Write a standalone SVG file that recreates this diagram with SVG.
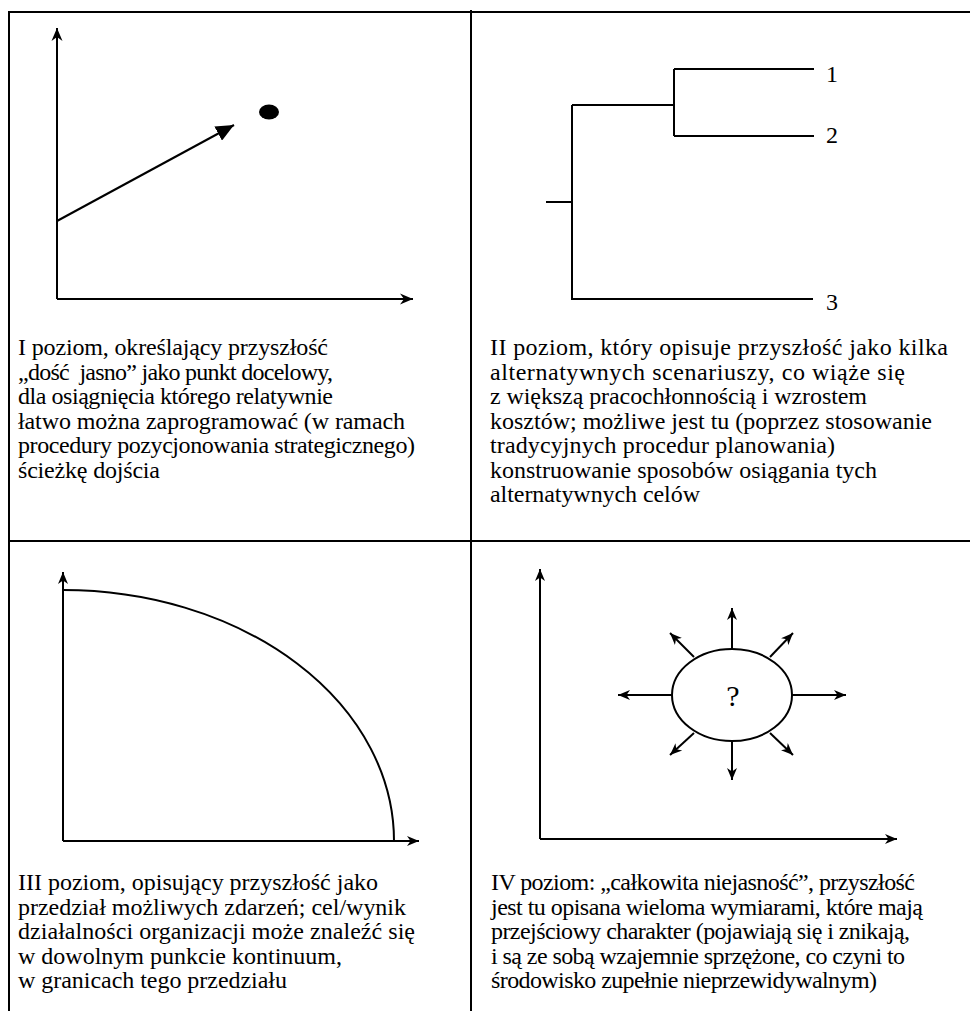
<svg xmlns="http://www.w3.org/2000/svg" width="970" height="1011" viewBox="0 0 970 1011">
<style>
.ln{stroke:#000;stroke-width:2;fill:none}
.fr{stroke:#000;stroke-width:2;fill:none}
text{font-family:'Liberation Serif','Times New Roman',serif;font-size:24px;fill:#000}
</style>
<defs>
<marker id="ah" markerUnits="userSpaceOnUse" markerWidth="16" markerHeight="12" refX="13" refY="6" orient="auto">
<path d="M0,0.5 L13,6 L0,11.5 L4,6 Z" fill="#000"/>
</marker>
<marker id="ahs" markerUnits="userSpaceOnUse" markerWidth="14" markerHeight="12" refX="12" refY="6" orient="auto">
<path d="M0,1 L12,6 L0,11 L3.5,6 Z" fill="#000"/>
</marker>
<marker id="tri" markerUnits="userSpaceOnUse" markerWidth="20" markerHeight="16" refX="18" refY="8" orient="auto">
<path d="M0,0 L18,8 L0,16 Z" fill="#000"/>
</marker>
</defs>
<g id="frame">
<line class="fr" x1="9" y1="12" x2="970" y2="12"/>
<line class="fr" x1="9" y1="11" x2="9" y2="1011"/>
<line class="fr" x1="471" y1="10" x2="471" y2="1011"/>
<line class="fr" x1="9" y1="541" x2="970" y2="541"/>
</g>
<g id="panel1">
<line class="ln" x1="57" y1="299" x2="57" y2="28" marker-end="url(#ah)"/>
<line class="ln" x1="57" y1="299" x2="413" y2="299" marker-end="url(#ah)"/>
<line class="ln" x1="57" y1="221" x2="234" y2="125" marker-end="url(#tri)"/>
<ellipse cx="269" cy="112" rx="10" ry="7.5" fill="#000"/>
<text x="18" y="355" textLength="310" lengthAdjust="spacing">I poziom, określający przyszłość</text>
<text x="18" y="379.5" textLength="315" lengthAdjust="spacing">„dość&#160; jasno” jako punkt docelowy,</text>
<text x="18" y="404" textLength="315" lengthAdjust="spacing">dla osiągnięcia którego relatywnie</text>
<text x="18" y="428.5" textLength="387" lengthAdjust="spacing">łatwo można zaprogramować (w ramach</text>
<text x="18" y="453" textLength="397" lengthAdjust="spacing">procedury pozycjonowania strategicznego)</text>
<text x="18" y="477.5" textLength="142" lengthAdjust="spacing">ścieżkę dojścia</text>
</g>
<g id="panel2">
<path class="ln" d="M546,202 H572 M572,105 V299 H813 M572,105 H674 M674,69 V136 M674,69 H814 M674,136 H814"/>
<text x="826" y="82">1</text>
<text x="826" y="143">2</text>
<text x="826" y="310">3</text>
<text x="490" y="355" textLength="458" lengthAdjust="spacing">II poziom, który opisuje przyszłość jako kilka</text>
<text x="490" y="379.5" textLength="415" lengthAdjust="spacing">alternatywnych scenariuszy, co wiąże się</text>
<text x="490" y="404" textLength="377" lengthAdjust="spacing">z większą pracochłonnością i wzrostem</text>
<text x="490" y="428.5" textLength="442" lengthAdjust="spacing">kosztów; możliwe jest tu (poprzez stosowanie</text>
<text x="490" y="453" textLength="345" lengthAdjust="spacing">tradycyjnych procedur planowania)</text>
<text x="490" y="477.5" textLength="387" lengthAdjust="spacing">konstruowanie sposobów osiągania tych</text>
<text x="490" y="502" textLength="210" lengthAdjust="spacing">alternatywnych celów</text>
</g>
<g id="panel3">
<line class="ln" x1="63" y1="841" x2="63" y2="572" marker-end="url(#ahs)"/>
<line class="ln" x1="63" y1="841" x2="419" y2="841" marker-end="url(#ahs)"/>
<path class="ln" d="M63,590 A331,251 0 0 1 394,841"/>
<text x="18" y="890" textLength="360" lengthAdjust="spacing">III poziom, opisujący przyszłość jako</text>
<text x="18" y="914.5" textLength="388" lengthAdjust="spacing">przedział możliwych zdarzeń; cel/wynik</text>
<text x="18" y="939" textLength="397" lengthAdjust="spacing">działalności organizacji może znaleźć się</text>
<text x="18" y="963.5" textLength="324" lengthAdjust="spacing">w dowolnym punkcie kontinuum,</text>
<text x="18" y="988" textLength="269" lengthAdjust="spacing">w granicach tego przedziału</text>
</g>
<g id="panel4">
<line class="ln" x1="540" y1="839" x2="540" y2="569" marker-end="url(#ahs)"/>
<line class="ln" x1="540" y1="839" x2="897" y2="839" marker-end="url(#ahs)"/>
<ellipse class="ln" cx="732" cy="695" rx="60" ry="46" fill="#fff"/>
<text x="733" y="706" text-anchor="middle" style="font-size:30px">?</text>
<g id="rays">
<line class="ln" x1="732" y1="649" x2="732" y2="608" marker-end="url(#ahs)"/>
<line class="ln" x1="732" y1="741" x2="732" y2="780" marker-end="url(#ahs)"/>
<line class="ln" x1="672" y1="695" x2="618" y2="695" marker-end="url(#ahs)"/>
<line class="ln" x1="792" y1="695" x2="846" y2="695" marker-end="url(#ahs)"/>
<line class="ln" x1="694" y1="657" x2="670" y2="633" marker-end="url(#ahs)"/>
<line class="ln" x1="770" y1="657" x2="793" y2="633" marker-end="url(#ahs)"/>
<line class="ln" x1="694" y1="733" x2="670" y2="755" marker-end="url(#ahs)"/>
<line class="ln" x1="770" y1="733" x2="793" y2="755" marker-end="url(#ahs)"/>
</g>
<text x="491" y="890" textLength="424" lengthAdjust="spacing">IV poziom: „całkowita niejasność”, przyszłość</text>
<text x="491" y="914.5" textLength="432" lengthAdjust="spacing">jest tu opisana wieloma wymiarami, które mają</text>
<text x="491" y="939" textLength="419" lengthAdjust="spacing">przejściowy charakter (pojawiają się i znikają,</text>
<text x="491" y="963.5" textLength="414" lengthAdjust="spacing">i są ze sobą wzajemnie sprzężone, co czyni to</text>
<text x="491" y="988" textLength="386" lengthAdjust="spacing">środowisko zupełnie nieprzewidywalnym)</text>
</g>
</svg>
